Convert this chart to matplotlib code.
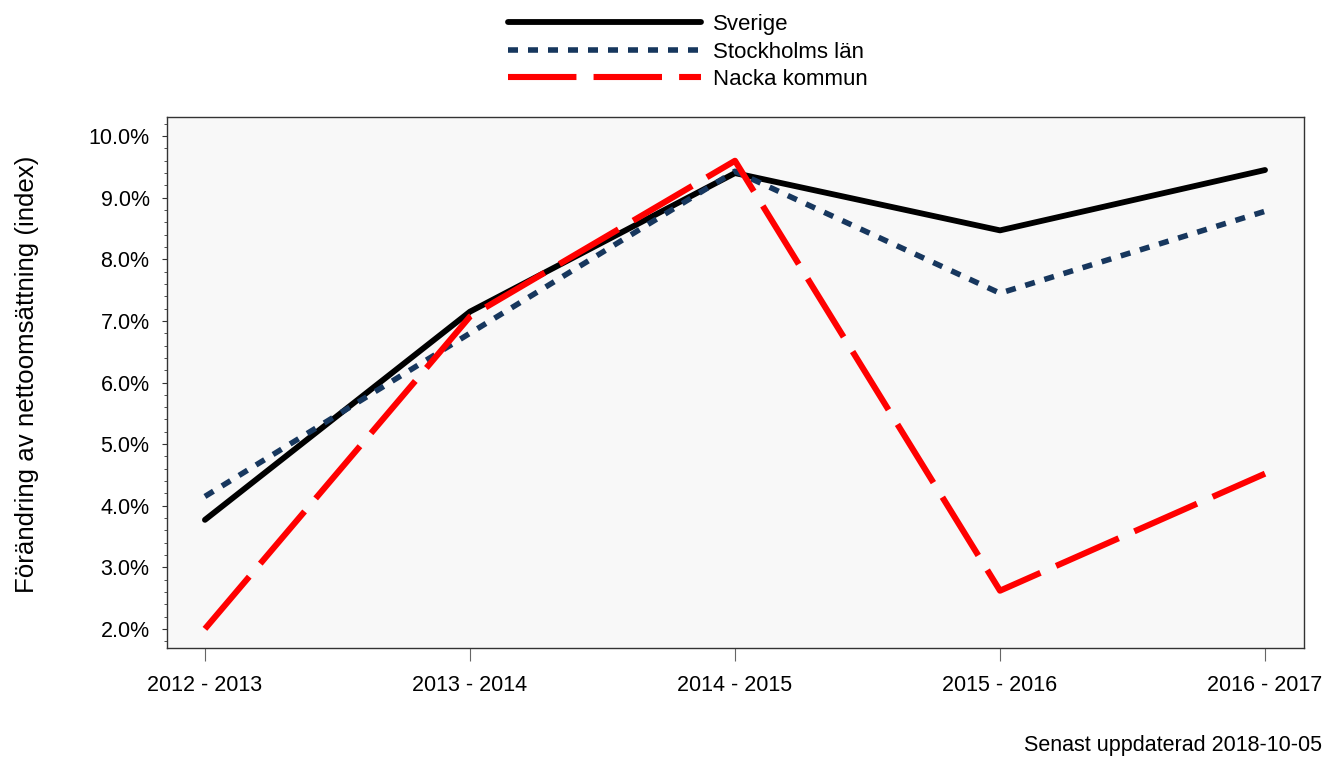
import matplotlib
matplotlib.use("Agg")
import matplotlib.pyplot as plt
from matplotlib.ticker import MultipleLocator, FuncFormatter

plt.rcParams['font.family'] = ['Liberation Sans', 'DejaVu Sans']

categories = ["2012 - 2013", "2013 - 2014", "2014 - 2015", "2015 - 2016", "2016 - 2017"]
sverige = [3.77, 7.15, 9.40, 8.47, 9.45]
stockholm = [4.15, 6.80, 9.43, 7.45, 8.78]
nacka = [2.00, 7.07, 9.60, 2.62, 4.52]

fig = plt.figure(figsize=(13.31, 7.65), dpi=100)
ax = fig.add_axes([0.1255, 0.153, 0.9797 - 0.1255, 0.847 - 0.153])
ax.set_facecolor('#f8f8f8')

x = list(range(len(categories)))
l1, = ax.plot(x, sverige, color='black', lw=4.2, solid_capstyle='round', solid_joinstyle='round', label='Sverige')
l2, = ax.plot(x, stockholm, color='#17375e', lw=4.0, dashes=(1.8, 1.8), label='Stockholms län')
l3, = ax.plot(x, nacka, color='#ff0000', lw=4.4, dashes=(11.2, 2.8), label='Nacka kommun')

ax.set_xlim(-0.143, 4.147)
ax.set_ylim(1.69, 10.31)
ax.set_xticks(x)
ax.set_xticklabels(categories, fontsize=15.5)
ax.yaxis.set_major_locator(MultipleLocator(1.0))
ax.yaxis.set_minor_locator(MultipleLocator(0.2))
ax.yaxis.set_major_formatter(FuncFormatter(lambda v, p: f"{v:.1f}%"))
ax.tick_params(axis='y', which='major', labelsize=15.5, length=3.6, color='#333333', pad=9)
ax.tick_params(axis='y', which='minor', length=2, color='#333333')
ax.tick_params(axis='x', which='major', length=9.4, color='#666666', pad=10)
for s in ax.spines.values():
    s.set_color('#333333')
    s.set_linewidth(1.0)

ax.set_ylabel("Förändring av nettoomsättning (index)", fontsize=18.6)
ax.yaxis.set_label_coords(-0.113, 0.515)

fig.legend(handles=[l1, l2, l3], loc='upper left', bbox_to_anchor=(0.3665, 1.008),
           frameon=False, fontsize=16, handlelength=8.7, handletextpad=0.55,
           labelspacing=0.30, borderaxespad=0.5)

fig.text(0.993, 0.012, "Senast uppdaterad 2018-10-05", ha='right', va='bottom', fontsize=15.5)

fig.savefig("out.png", dpi=100)
